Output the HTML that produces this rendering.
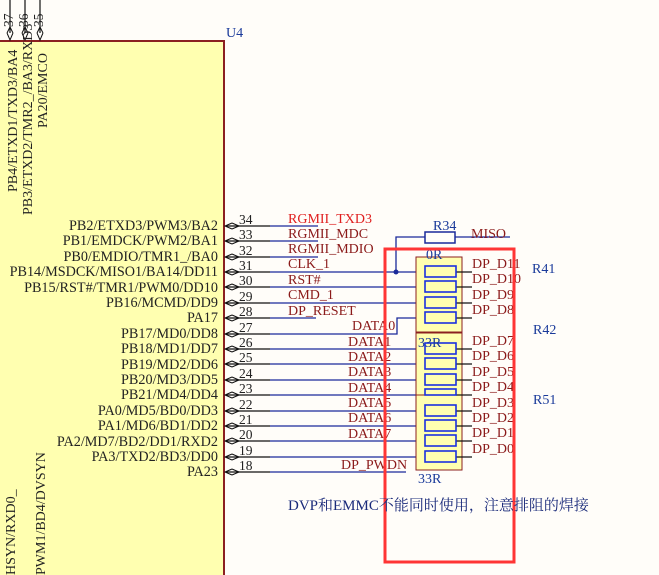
<!DOCTYPE html>
<html><head><meta charset="utf-8"><style>
html,body{margin:0;padding:0;background:#fffdf9;}
svg{display:block;font-family:"Liberation Serif","Noto Serif CJK SC",serif;}
</style></head><body>
<svg width="659" height="575" viewBox="0 0 659 575" xmlns="http://www.w3.org/2000/svg">
<rect x="0" y="0" width="659" height="575" fill="#fffdf9"/>
<rect x="-2" y="41" width="226" height="540" fill="#ffffb0" stroke="#8b2020" stroke-width="2"/>
<text x="226" y="37" font-size="14" fill="#1a3a9a">U4</text>
<g stroke="#111" stroke-width="1.2">
<line x1="10" y1="0" x2="10" y2="33"/><line x1="25" y1="0" x2="25" y2="33"/><line x1="40" y1="0" x2="40" y2="33"/>
</g>
<g fill="none" stroke="#111" stroke-width="1">
<path d="M7 33 L10 40 L13 33 M7 33 L10 27 L13 33"/>
<path d="M22 33 L25 40 L28 33 M22 33 L25 27 L28 33"/>
<path d="M37 33 L40 40 L43 33 M37 33 L40 27 L43 33"/>
</g>
<g font-size="13.5" fill="#222">
<text transform="translate(13,27) rotate(-90)">37</text>
<text transform="translate(28,27) rotate(-90)">36</text>
<text transform="translate(43,27) rotate(-90)">35</text>
</g>
<g font-size="14" fill="#222">
<text transform="translate(17,192) rotate(-90)">PB4/ETXD1/TXD3/BA4</text>
<text transform="translate(32,215) rotate(-90)">PB3/ETXD2/TMR2_/BA3/RXD3</text>
<text transform="translate(47,128) rotate(-90)">PA20/EMCO</text>
<text transform="translate(15,575) rotate(-90)">HSYN/RXD0_</text>
<text transform="translate(45,575) rotate(-90)">PWM1/BD4/DVSYN</text>
</g>
<g font-size="14.2" fill="#222" text-anchor="end">
<text x="218" y="230">PB2/ETXD3/PWM3/BA2</text>
<text x="218" y="245">PB1/EMDCK/PWM2/BA1</text>
<text x="218" y="261">PB0/EMDIO/TMR1_/BA0</text>
<text x="218" y="276">PB14/MSDCK/MISO1/BA14/DD11</text>
<text x="218" y="292">PB15/RST#/TMR1/PWM0/DD10</text>
<text x="218" y="307">PB16/MCMD/DD9</text>
<text x="218" y="322">PA17</text>
<text x="218" y="338">PB17/MD0/DD8</text>
<text x="218" y="353">PB18/MD1/DD7</text>
<text x="218" y="369">PB19/MD2/DD6</text>
<text x="218" y="384">PB20/MD3/DD5</text>
<text x="218" y="399">PB21/MD4/DD4</text>
<text x="218" y="415">PA0/MD5/BD0/DD3</text>
<text x="218" y="430">PA1/MD6/BD1/DD2</text>
<text x="218" y="446">PA2/MD7/BD2/DD1/RXD2</text>
<text x="218" y="461">PA3/TXD2/BD3/DD0</text>
<text x="218" y="476">PA23</text>
</g>
<g stroke="#111" stroke-width="1.2" fill="none">
<path d="M226 226H270M226 241H270M226 257H270M226 272H270M226 287H270M226 303H270M226 318H270M226 334H270M226 349H270M226 364H270M226 380H270M226 395H270M226 411H270M226 426H270M226 441H270M226 457H270M226 472H270"/>
</g>
<g stroke="#111" stroke-width="1" fill="none">
<path d="M232 223L225 226L232 229M232 223L239 226L232 229"/>
<path d="M232 238L225 241L232 244M232 238L239 241L232 244"/>
<path d="M232 254L225 257L232 260M232 254L239 257L232 260"/>
<path d="M232 269L225 272L232 275M232 269L239 272L232 275"/>
<path d="M232 284L225 287L232 290M232 284L239 287L232 290"/>
<path d="M232 300L225 303L232 306M232 300L239 303L232 306"/>
<path d="M232 315L225 318L232 321M232 315L239 318L232 321"/>
<path d="M232 331L225 334L232 337M232 331L239 334L232 337"/>
<path d="M232 346L225 349L232 352M232 346L239 349L232 352"/>
<path d="M232 361L225 364L232 367M232 361L239 364L232 367"/>
<path d="M232 377L225 380L232 383M232 377L239 380L232 383"/>
<path d="M232 392L225 395L232 398M232 392L239 395L232 398"/>
<path d="M232 408L225 411L232 414M232 408L239 411L232 414"/>
<path d="M232 423L225 426L232 429M232 423L239 426L232 429"/>
<path d="M232 438L225 441L232 444M232 438L239 441L232 444"/>
<path d="M232 454L225 457L232 460M232 454L239 457L232 460"/>
<path d="M232 469L225 472L232 475M232 469L239 472L232 475"/>
</g>
<g font-size="13.5" fill="#222">
<text x="239" y="224">34</text><text x="239" y="239">33</text><text x="239" y="255">32</text>
<text x="239" y="270">31</text><text x="239" y="285">30</text><text x="239" y="301">29</text>
<text x="239" y="316">28</text><text x="239" y="332">27</text><text x="239" y="347">26</text>
<text x="239" y="362">25</text><text x="239" y="378">24</text><text x="239" y="393">23</text>
<text x="239" y="409">22</text><text x="239" y="424">21</text><text x="239" y="439">20</text>
<text x="239" y="455">19</text><text x="239" y="470">18</text>
</g>
<g stroke="#1a2a9a" stroke-width="1.3" fill="none">
<path d="M270 226H318M270 241H318M270 257H318M270 318H316"/>
<path d="M270 272H420M270 287H420M270 303H420"/>
<path d="M270 334H397V318H420"/>
<path d="M270 349H420M270 364H420M270 380H420M270 395H420"/>
<path d="M270 411H420M270 426H420M270 441H420M270 457H420"/>
<path d="M270 472H406"/>
<path d="M396 272V237H425M455 237H510"/>
</g>
<circle cx="396" cy="272" r="2.5" fill="#1a2a9a"/>
<g font-size="14" fill="#8b1a1a">
<text x="288" y="223" fill="#e02020">RGMII_TXD3</text>
<text x="288" y="238">RGMII_MDC</text>
<text x="288" y="253">RGMII_MDIO</text>
<text x="288" y="268">CLK_1</text>
<text x="288" y="284">RST#</text>
<text x="288" y="299">CMD_1</text>
<text x="288" y="315">DP_RESET</text>
<text x="352" y="330">DATA0</text>
<text x="348" y="346">DATA1</text>
<text x="348" y="361">DATA2</text>
<text x="348" y="376">DATA3</text>
<text x="348" y="392">DATA4</text>
<text x="348" y="407">DATA5</text>
<text x="348" y="422">DATA6</text>
<text x="348" y="438">DATA7</text>
<text x="341" y="469">DP_PWDN</text>
<text x="471" y="238">MISO</text>
</g>
<rect x="425" y="232" width="30" height="11" fill="#fffdf9" stroke="#1a2a9a" stroke-width="1.5"/>
<text x="433" y="230" font-size="14" fill="#1a3a9a">R34</text>
<rect x="416" y="257" width="46" height="75" fill="#ffffb0" stroke="#8b2020" stroke-width="1"/>
<rect x="416" y="333" width="46" height="67" fill="#ffffb0" stroke="#8b2020" stroke-width="1"/>
<rect x="416" y="395" width="46" height="75" fill="#ffffb0" stroke="#8b2020" stroke-width="1"/>
<g stroke="#111" stroke-width="1.2">
<path d="M456 272H472M456 287H472M456 303H472M456 318H472M456 349H472M456 364H472M456 380H472M456 395H472M456 411H472M456 426H472M456 441H472M456 457H472"/>
</g>
<g fill="#ffffb0" stroke="#1a30e0" stroke-width="1.6">
<rect x="425" y="266" width="31" height="11"/><rect x="425" y="281" width="31" height="11"/>
<rect x="425" y="297" width="31" height="11"/><rect x="425" y="312" width="31" height="11"/>
<rect x="425" y="343" width="31" height="11"/><rect x="425" y="358" width="31" height="11"/>
<rect x="425" y="374" width="31" height="11"/><rect x="425" y="389" width="31" height="6"/>
<rect x="425" y="405" width="31" height="11"/><rect x="425" y="420" width="31" height="11"/>
<rect x="425" y="435" width="31" height="11"/><rect x="425" y="451" width="31" height="11"/>
</g>
<g font-size="14" fill="#1a3a9a">
<text x="426" y="259">0R</text>
<text x="418" y="347">33R</text>
<text x="418" y="483">33R</text>
<text x="532" y="273">R41</text>
<text x="533" y="334">R42</text>
<text x="533" y="404">R51</text>
</g>
<g font-size="14" fill="#8b1a1a">
<text x="472" y="268">DP_D11</text><text x="472" y="283">DP_D10</text>
<text x="472" y="299">DP_D9</text><text x="472" y="314">DP_D8</text>
<text x="472" y="345">DP_D7</text><text x="472" y="360">DP_D6</text>
<text x="472" y="376">DP_D5</text><text x="472" y="391">DP_D4</text>
<text x="472" y="407">DP_D3</text><text x="472" y="422">DP_D2</text>
<text x="472" y="437">DP_D1</text><text x="472" y="453">DP_D0</text>
</g>
<rect x="385" y="249" width="129" height="313" fill="none" stroke="#ff3535" stroke-width="3"/>
<text x="288" y="510" font-size="15" fill="#1a2a7a">DVP和EMMC不能同时使用，注意排阻的焊接</text>
</svg>
</body></html>
